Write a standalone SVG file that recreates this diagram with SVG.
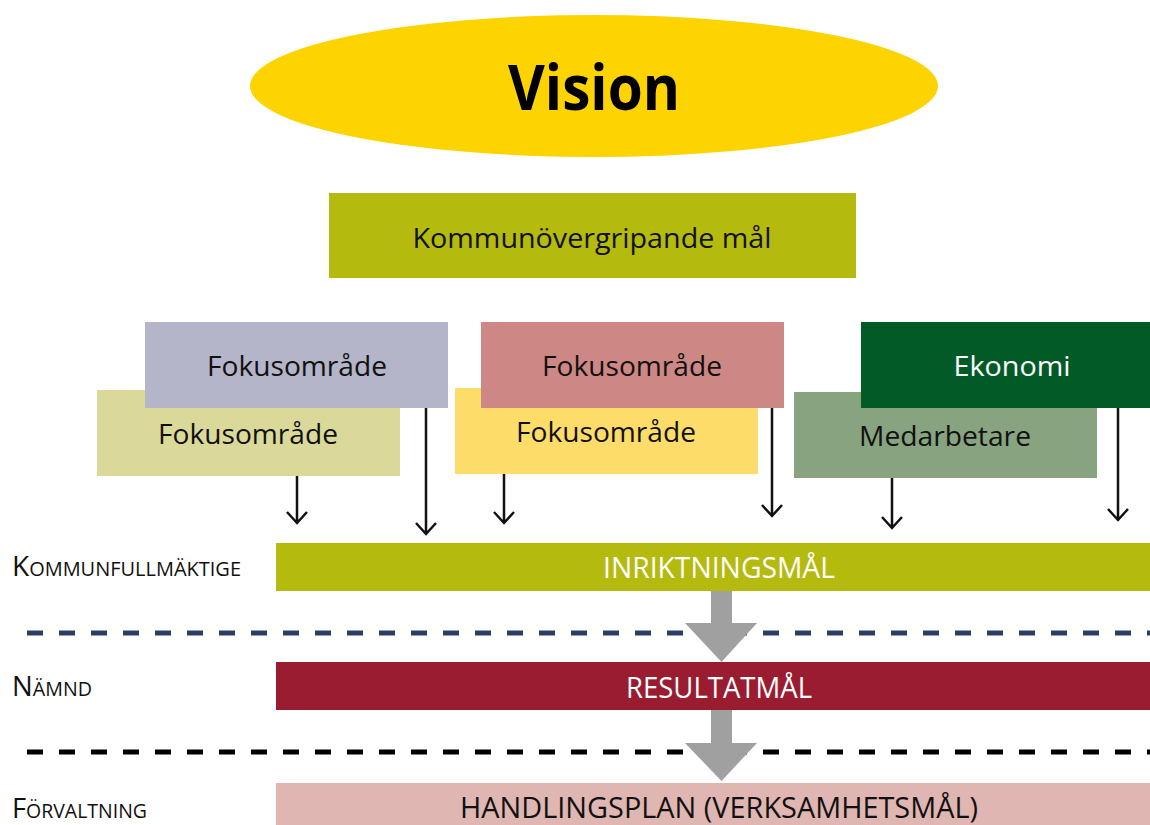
<svg xmlns="http://www.w3.org/2000/svg" width="1150" height="825" viewBox="0 0 1150 825">
<style>
.t{font-family:"Open Sans","Noto Sans","Liberation Sans",sans-serif;text-anchor:middle}
.lbl{font-family:"Open Sans","Noto Sans","Liberation Sans",sans-serif;fill:#111}
.bar{font-family:"Open Sans","Noto Sans","Liberation Sans",sans-serif;text-anchor:middle;font-size:29px}
.ar{fill:none;stroke:#111;stroke-width:2.5}
.gr{fill:#A0A0A0}
</style>
<rect width="1150" height="825" fill="#fff"/>
<g id="vision">
<ellipse cx="594" cy="86" rx="344" ry="71" fill="#FDD300"/>
<text class="t" x="594" y="110" font-size="62" font-weight="bold" textLength="172" lengthAdjust="spacingAndGlyphs" fill="#000">Vision</text>
</g>
<g id="kommunovergripande">
<rect x="329" y="193" width="527" height="85" fill="#B5BA0F"/>
<text class="t" x="592" y="248" font-size="27" textLength="359" lengthAdjust="spacingAndGlyphs" fill="#111">Kommunövergripande mål</text>
</g>
<g id="fokus-khaki">
<rect x="97" y="390" width="303" height="86" fill="#DBD99A"/>
<text class="t" x="248" y="444" font-size="27" textLength="180" lengthAdjust="spacingAndGlyphs" fill="#111">Fokusområde</text>
</g>
<g id="fokus-lavender">
<rect x="145" y="322" width="303" height="86" fill="#B4B5C9"/>
<text class="t" x="297" y="376" font-size="27" textLength="180" lengthAdjust="spacingAndGlyphs" fill="#111">Fokusområde</text>
</g>
<g id="fokus-yellow">
<rect x="455" y="388" width="303" height="86" fill="#FEDC69"/>
<text class="t" x="606" y="442" font-size="27" textLength="180" lengthAdjust="spacingAndGlyphs" fill="#111">Fokusområde</text>
</g>
<g id="fokus-rose">
<rect x="481" y="322" width="303" height="86" fill="#CD8886"/>
<text class="t" x="632" y="376" font-size="27" textLength="180" lengthAdjust="spacingAndGlyphs" fill="#111">Fokusområde</text>
</g>
<g id="medarbetare">
<rect x="794" y="392" width="303" height="86" fill="#87A380"/>
<text class="t" x="945" y="446" font-size="27" textLength="172" lengthAdjust="spacingAndGlyphs" fill="#111">Medarbetare</text>
</g>
<g id="ekonomi">
<rect x="861" y="322" width="289" height="86" fill="#025B27"/>
<text class="t" x="1012" y="376" font-size="27" textLength="117" lengthAdjust="spacingAndGlyphs" fill="#fff">Ekonomi</text>
</g>
<g id="dashes">
<line x1="27" y1="633" x2="1150" y2="633" stroke="#2C3D66" stroke-width="5" stroke-dasharray="16 16"/>
<line x1="27" y1="752" x2="1150" y2="752" stroke="#000" stroke-width="5" stroke-dasharray="16 16"/>
</g>
<g id="inriktningsmal">
<rect x="276" y="543" width="874" height="48" fill="#B5BA0F"/>
<text class="bar" x="719" y="578" textLength="232" lengthAdjust="spacingAndGlyphs" fill="#fff">INRIKTNINGSMÅL</text>
</g>
<g id="resultatmal">
<rect x="276" y="662" width="874" height="48" fill="#9A1C31"/>
<text class="bar" x="719" y="698" textLength="186" lengthAdjust="spacingAndGlyphs" fill="#fff">RESULTATMÅL</text>
</g>
<g id="handlingsplan">
<rect x="276" y="783" width="874" height="42" fill="#E0B6B2"/>
<text class="bar" x="719" y="818" textLength="518" lengthAdjust="spacingAndGlyphs" fill="#111">HANDLINGSPLAN (VERKSAMHETSMÅL)</text>
</g>
<g id="labels">
<text class="lbl" x="12" y="576" textLength="229" lengthAdjust="spacingAndGlyphs"><tspan font-size="28">K</tspan><tspan font-size="20">OMMUNFULLMÄKTIGE</tspan></text>
<text class="lbl" x="12" y="696" textLength="80" lengthAdjust="spacingAndGlyphs"><tspan font-size="28">N</tspan><tspan font-size="20">ÄMND</tspan></text>
<text class="lbl" x="12" y="818" textLength="135" lengthAdjust="spacingAndGlyphs"><tspan font-size="28">F</tspan><tspan font-size="20">ÖRVALTNING</tspan></text>
</g>
<g id="connectors">
<path class="ar" d="M297 476V523M287 512L297 523L307 512"/>
<path class="ar" d="M426 408V534M416 523L426 534L436 523"/>
<path class="ar" d="M504 474V523M494 512L504 523L514 512"/>
<path class="ar" d="M772 408V516M762 505L772 516L782 505"/>
<path class="ar" d="M892 478V528M882 517L892 528L902 517"/>
<path class="ar" d="M1118 408V520M1108 509L1118 520L1128 509"/>
<polygon class="gr" points="711,591 732,591 732,623 757,623 721.5,662 685,623 711,623"/>
<polygon class="gr" points="711,710 732,710 732,743 757,743 721.5,781 685,743 711,743"/>
</g>
</svg>
